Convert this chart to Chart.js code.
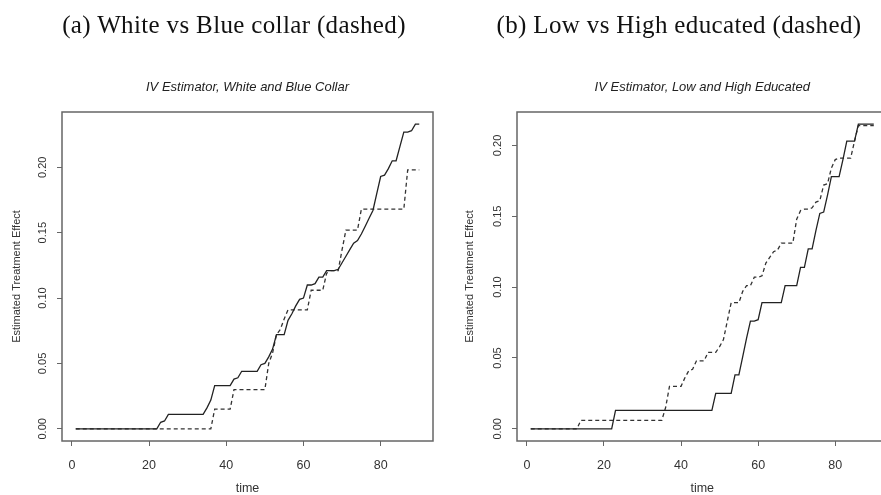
<!DOCTYPE html>
<html>
<head>
<meta charset="utf-8">
<title>IV Estimator</title>
<script src="https://cdn.jsdelivr.net/npm/chart.js@4.4.0/dist/chart.umd.min.js"></script>
<style>
  body { margin: 0; width: 881px; height: 495px; overflow: hidden; background: #fff; position: relative; }
  .panel { position: absolute; top: 0; height: 495px; overflow: hidden; }
  #panelA { left: 0; width: 440px; }
  #panelB { left: 440px; width: 441px; }
  .caption {
    position: absolute; top: 10px; transform: translateX(-50%);
    font-family: "Liberation Serif", serif; font-size: 25px; line-height: 30px;
    letter-spacing: 0.35px; color: #111; white-space: nowrap; z-index: 2;
  }
</style>
</head>
<body>
<div class="caption" style="left:234px">(a) White vs Blue collar (dashed)</div>
<div class="caption" style="left:679px">(b) Low vs High educated (dashed)</div>
<div class="panel" id="panelA"><canvas id="chartA" width="440" height="495"></canvas></div>
<div class="panel" id="panelB"><canvas id="chartB" width="450" height="495"></canvas></div>
<script>
// time periods
const time = [
  1, 2, 3, 4, 5, 6, 7, 8, 9, 10, 11, 12, 13, 14, 15, 16, 17, 18, 19, 20,
  21, 22, 23, 24, 25, 26, 27, 28, 29, 30, 31, 32, 33, 34, 35, 36, 37, 38, 39, 40,
  41, 42, 43, 44, 45, 46, 47, 48, 49, 50, 51, 52, 53, 54, 55, 56, 57, 58, 59, 60,
  61, 62, 63, 64, 65, 66, 67, 68, 69, 70, 71, 72, 73, 74, 75, 76, 77, 78, 79, 80,
  81, 82, 83, 84, 85, 86, 87, 88, 89, 90
];

// (a) white collar (solid) and blue collar (dashed)
const whiteCollar = [
  0, 0, 0, 0, 0, 0, 0, 0, 0, 0, 0, 0, 0, 0, 0, 0, 0, 0, 0, 0, 0, 0,
  0.005, 0.006, 0.011, 0.011, 0.011, 0.011, 0.011, 0.011, 0.011, 0.011, 0.011, 0.011,
  0.016, 0.022, 0.033, 0.033, 0.033, 0.033, 0.033, 0.038, 0.039, 0.044, 0.044, 0.044, 0.044, 0.044,
  0.049, 0.050, 0.055, 0.061, 0.072, 0.072, 0.072, 0.083, 0.088, 0.094, 0.099, 0.100,
  0.110, 0.110, 0.111, 0.116, 0.116, 0.121, 0.121, 0.121, 0.122, 0.127,
  0.132, 0.137, 0.142, 0.144, 0.149, 0.155, 0.161, 0.167, 0.180, 0.193,
  0.194, 0.199, 0.205, 0.205, 0.216, 0.227, 0.227, 0.228, 0.233, 0.233
];
const blueCollar = [
  0, 0, 0, 0, 0, 0, 0, 0, 0, 0, 0, 0, 0, 0, 0, 0, 0, 0,
  0, 0, 0, 0, 0, 0, 0, 0, 0, 0, 0, 0, 0, 0, 0, 0, 0, 0,
  0.015, 0.015, 0.015, 0.015, 0.015,
  0.030, 0.030, 0.030, 0.030, 0.030, 0.030, 0.030, 0.030, 0.030,
  0.050, 0.058, 0.072, 0.076, 0.084, 0.091, 0.091, 0.091, 0.091, 0.091,
  0.091, 0.106, 0.106, 0.106, 0.106, 0.119, 0.121, 0.121, 0.121, 0.137,
  0.152, 0.152, 0.152, 0.152, 0.168, 0.168, 0.168, 0.168, 0.168, 0.168,
  0.168, 0.168, 0.168, 0.168, 0.168, 0.168, 0.198, 0.198, 0.198, 0.198
];

// (b) low educated (solid) and high educated (dashed)
const lowEducated = [
  0, 0, 0, 0, 0, 0, 0, 0, 0, 0, 0, 0, 0, 0, 0, 0, 0, 0, 0, 0, 0, 0,
  0.013, 0.013, 0.013, 0.013, 0.013, 0.013, 0.013, 0.013, 0.013, 0.013, 0.013, 0.013, 0.013,
  0.013, 0.013, 0.013, 0.013, 0.013, 0.013, 0.013, 0.013, 0.013, 0.013, 0.013, 0.013, 0.013,
  0.025, 0.025, 0.025, 0.025, 0.025,
  0.038, 0.038, 0.051, 0.064, 0.076, 0.076, 0.077,
  0.089, 0.089, 0.089, 0.089, 0.089, 0.089, 0.101, 0.101, 0.101, 0.101,
  0.114, 0.114, 0.127, 0.127, 0.140, 0.152, 0.153, 0.165, 0.178, 0.178,
  0.178, 0.190, 0.203, 0.203, 0.203, 0.215, 0.215, 0.215, 0.215, 0.215
];
const highEducated = [
  0, 0, 0, 0, 0, 0, 0, 0, 0, 0, 0, 0, 0,
  0.006, 0.006, 0.006, 0.006, 0.006, 0.006, 0.006, 0.006, 0.006, 0.006, 0.006,
  0.006, 0.006, 0.006, 0.006, 0.006, 0.006, 0.006, 0.006, 0.006, 0.006, 0.006,
  0.015, 0.030, 0.030, 0.030, 0.030,
  0.036, 0.041, 0.042, 0.048, 0.048, 0.048, 0.054, 0.054, 0.054, 0.058,
  0.063, 0.076, 0.089, 0.089, 0.089, 0.097, 0.101, 0.101, 0.107, 0.107,
  0.108, 0.117, 0.121, 0.125, 0.126, 0.131, 0.131, 0.131, 0.131, 0.148,
  0.154, 0.155, 0.155, 0.156, 0.160, 0.161, 0.172, 0.173, 0.184, 0.190,
  0.191, 0.191, 0.191, 0.191, 0.203, 0.214, 0.214, 0.214, 0.214, 0.214
];

const xTicks = [0, 20, 40, 60, 80];
const yTicks = [0, 0.05, 0.10, 0.15, 0.20];

const sans = '"Liberation Sans", Arial, sans-serif';
const axisColor = '#666';
const textColor = '#333';

// R-style range: data extent padded by 4% on each side
function extendRange(values) {
  const lo = Math.min(...values), hi = Math.max(...values);
  const pad = (hi - lo) * 0.04;
  return [lo - pad, hi + pad];
}

// box around the plot region plus the italic main title
const frame = {
  id: 'frame',
  afterDraw(chart, args, opts) {
    const {ctx, chartArea: a} = chart;
    ctx.save();
    ctx.strokeStyle = axisColor;
    ctx.lineWidth = 1.5;
    ctx.strokeRect(a.left, a.top, a.right - a.left, a.bottom - a.top);
    ctx.fillStyle = '#222';
    ctx.font = 'italic 13px ' + sans;
    ctx.textAlign = 'center';
    ctx.textBaseline = 'middle';
    ctx.fillText(opts.text, (a.left + a.right) / 2, 87);
    ctx.restore();
  }
};

function makeChart(id, title, solid, dashed, axisWidth, padRight, yTitlePad) {
  const [xMin, xMax] = extendRange(time);
  const [yMin, yMax] = extendRange(solid.concat(dashed));
  const pts = arr => time.map((t, i) => ({x: t, y: arr[i]}));
  const tickGrid = {drawOnChartArea: false, drawTicks: true, tickLength: 5, color: axisColor, lineWidth: 1};

  return new Chart(document.getElementById(id), {
    type: 'line',
    data: {
      datasets: [
        {data: pts(solid), borderColor: '#222', borderWidth: 1.3, pointRadius: 0, tension: 0},
        {data: pts(dashed), borderColor: '#333', borderWidth: 1.3, borderDash: [4, 3], pointRadius: 0, tension: 0}
      ]
    },
    options: {
      responsive: false,
      animation: false,
      events: [],
      layout: {padding: {top: 112, right: padRight, left: 0, bottom: 0}},
      plugins: {legend: {display: false}, tooltip: {enabled: false}, frame: {text: title}},
      scales: {
        x: {
          type: 'linear', min: xMin, max: xMax, bounds: 'data',
          afterBuildTicks: s => { s.ticks = xTicks.map(v => ({value: v})); },
          afterFit: s => { s.height = 54; },
          grid: tickGrid,
          border: {display: false},
          ticks: {minRotation: 0, maxRotation: 0, padding: 12, color: textColor,
                  font: {family: sans, size: 12.5}, callback: v => String(v)},
          title: {display: true, text: 'time', color: textColor, padding: 0,
                  font: {family: sans, size: 12.5, lineHeight: 1}}
        },
        y: {
          type: 'linear', min: yMin, max: yMax, bounds: 'data',
          afterBuildTicks: s => { s.ticks = yTicks.map(v => ({value: v})); },
          afterFit: s => { s.width = axisWidth; },
          grid: tickGrid,
          border: {display: false},
          ticks: {minRotation: 90, maxRotation: 90, crossAlign: 'center', padding: 3, color: textColor,
                  font: {family: sans, size: 11}, callback: v => v.toFixed(2)},
          title: {display: true, text: 'Estimated Treatment Effect', color: textColor,
                  padding: {top: yTitlePad, bottom: 0}, font: {family: sans, size: 11}}
        }
      }
    },
    plugins: [frame]
  });
}

makeChart('chartA', 'IV Estimator, White and Blue Collar', whiteCollar, blueCollar, 62, 7, 10);
makeChart('chartB', 'IV Estimator, Low and High Educated', lowEducated, highEducated, 77, 2.5, 23);
</script>
</body>
</html>
